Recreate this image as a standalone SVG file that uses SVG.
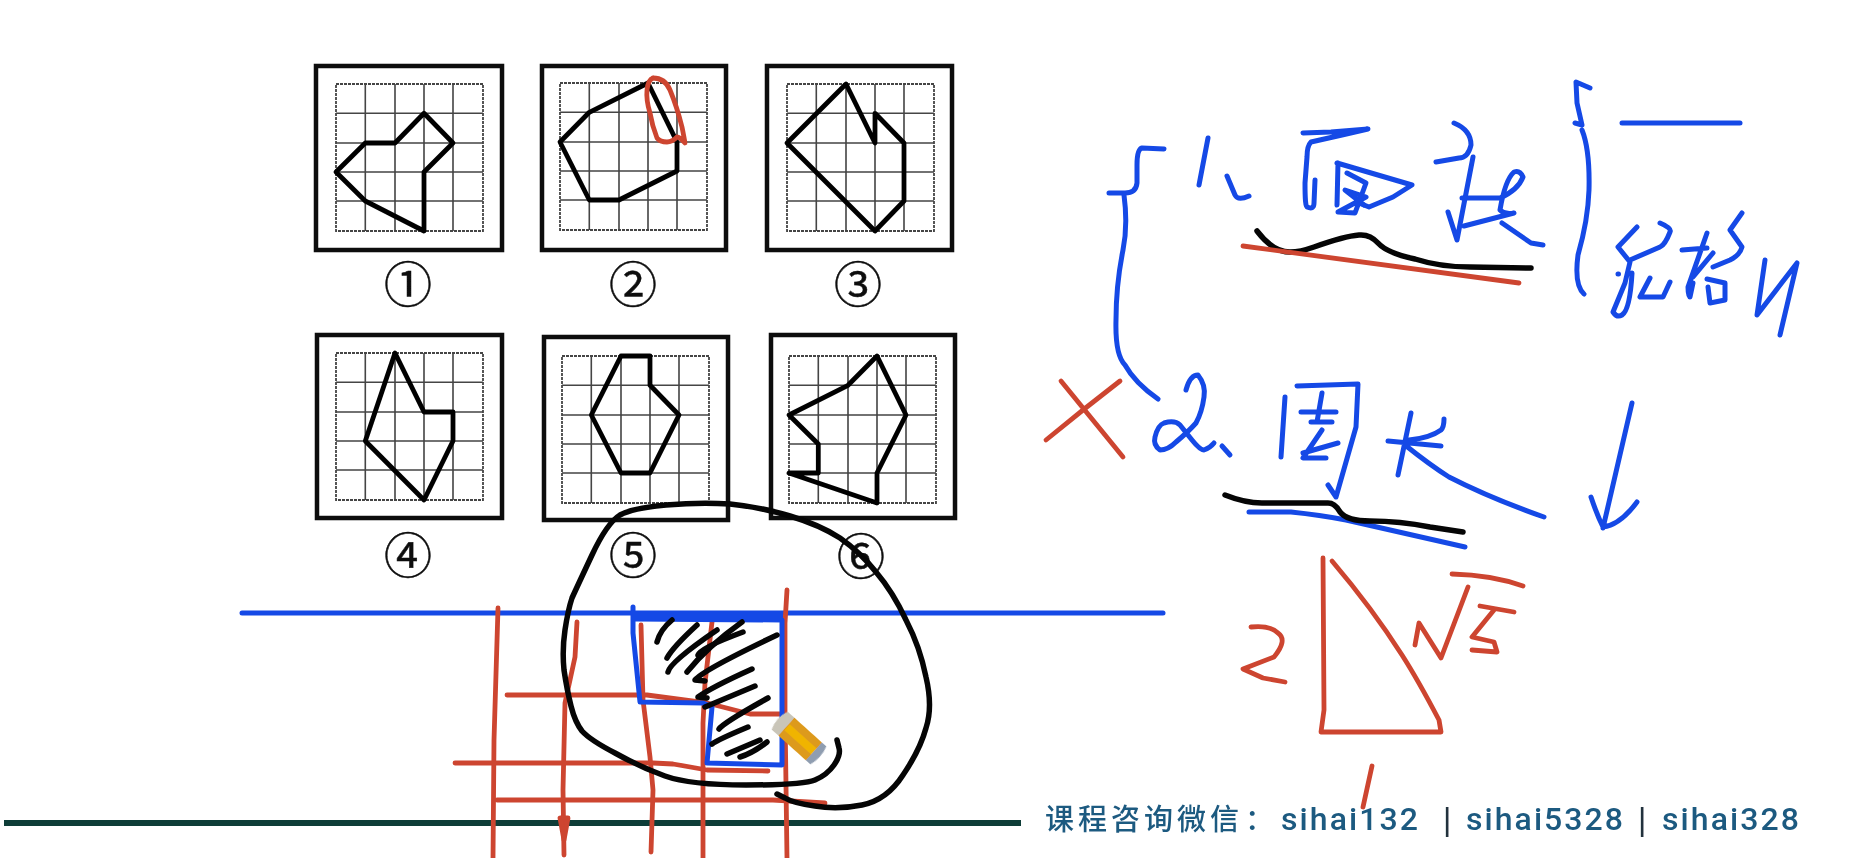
<svg xmlns="http://www.w3.org/2000/svg" xmlns:xlink="http://www.w3.org/1999/xlink" width="1875" height="858" viewBox="0 0 1875 858">
<style>
.box{fill:#fff;stroke:#111;stroke-width:4.5}
.gl{stroke:#444;stroke-width:1.6;fill:none}
.gb{stroke:#444;stroke-width:1.8;fill:none;stroke-dasharray:3 1}
.shape{fill:none;stroke:#050505;stroke-width:4.8;stroke-linejoin:round}
.num{font-family:"Noto Sans CJK SC","DejaVu Sans",sans-serif;font-size:48px;fill:#111;stroke:#111;stroke-width:.5;text-anchor:middle}
.r,.b,.k{fill:none;stroke-linecap:round;stroke-linejoin:round}
.r{stroke:#cd4530;stroke-width:4.8}
.b{stroke:#1549e6;stroke-width:5}
.k{stroke:#050505;stroke-width:5.5}
.wm{font-family:Roboto,"Liberation Sans",sans-serif;font-weight:500;font-size:32px;fill:#1f5a80}
.sep{font-family:"Liberation Sans",sans-serif;font-size:32px;fill:#22303c}
.cjk{font-family:"Noto Sans CJK SC",sans-serif;font-weight:500;font-size:29px;letter-spacing:4px;fill:#1f5a80}
</style>
<defs>
<filter id="soft" x="-2%" y="-2%" width="104%" height="104%"><feGaussianBlur stdDeviation="0.5"/></filter>
<g id="grid">
<rect class="gb" x="0" y="0" width="147" height="147"/>
<path class="gl" d="M29.3 0V147M59 0V147M88 0V147M117 0V147M0 29.3H147M0 59H147M0 88H147M0 117H147"/>
</g>
</defs>
<rect width="1875" height="858" fill="#fff"/>
<g id="panel-1" filter="url(#soft)"><rect class="box" x="316" y="66" width="186" height="184"/><use xlink:href="#grid" href="#grid" x="336" y="84"/><polygon class="shape" transform="translate(336 84)" points="0,88 29.3,59 59,59 88,29.3 117,59 88,88 88,147 29.3,117"/><text class="num" x="408" y="302">①</text></g>
<g id="panel-2" filter="url(#soft)"><rect class="box" x="542" y="66" width="184" height="184"/><use xlink:href="#grid" href="#grid" x="560" y="83"/><polygon class="shape" transform="translate(560 83)" points="88,0 29.3,29.3 0,59 29.3,117 59,117 117,88 117,59"/><text class="num" x="633" y="302">②</text></g>
<g id="panel-3" filter="url(#soft)"><rect class="box" x="767" y="66" width="185" height="184"/><use xlink:href="#grid" href="#grid" x="787" y="84"/><polygon class="shape" transform="translate(787 84)" points="0,59 59,0 88,59 88,29.3 117,59 117,117 88,147"/><text class="num" x="858" y="302">③</text></g>
<g id="panel-4" filter="url(#soft)"><rect class="box" x="317" y="335" width="185" height="183"/><use xlink:href="#grid" href="#grid" x="336" y="353"/><polygon class="shape" transform="translate(336 353)" points="59,0 88,59 117,59 117,88 88,147 29.3,88"/><text class="num" x="408" y="573">④</text></g>
<g id="panel-5" filter="url(#soft)"><rect class="box" x="544" y="337" width="184" height="183"/><use xlink:href="#grid" href="#grid" x="562" y="356"/><polygon class="shape" transform="translate(562 356)" points="59,0 88,0 88,29.3 117,59 88,117 59,117 29.3,59"/><text class="num" x="633" y="573">⑤</text></g>
<g id="panel-6" filter="url(#soft)"><rect class="box" x="771" y="335" width="184" height="183"/><use xlink:href="#grid" href="#grid" x="789" y="356"/><polygon class="shape" transform="translate(789 356)" points="88,0 117,59 88,117 88,147 0,117 29.3,117 29.3,88 0,59 59,29.3"/><text class="num" x="861" y="574">⑥</text></g>

<g id="watermark" filter="url(#soft)">
<text class="cjk" x="1045" y="830">课程咨询微信<tspan x="1245">：</tspan></text>
<text class="wm" x="1281" y="830" textLength="137" lengthAdjust="spacing">sihai132</text>
<text class="sep" x="1443" y="830">|</text>
<text class="wm" x="1466" y="830" textLength="157" lengthAdjust="spacing">sihai5328</text>
<text class="sep" x="1638" y="830">|</text>
<text class="wm" x="1662" y="830" textLength="137" lengthAdjust="spacing">sihai328</text>
</g>

<g id="connectors">
<path id="base-line" d="M4 823H1021" fill="none" stroke="#0e3d38" stroke-width="6"/>
<path id="top-line" d="M242 613H1163" fill="none" stroke="#1549e6" stroke-width="5" stroke-linecap="round"/>
<g id="red-grid" class="r">
<path d="M498 608L494 740L493 858"/>
<path d="M577 622L575 657L565 703L563 790L564 855"/>
<path d="M560 818L568 818L564 840Z" fill="#cd4530"/>
<path d="M641 625L643 700L650 757L653 790L651 852"/>
<path d="M712 622L705 683L703 723L703 858"/>
<path d="M787 590L785 623L785 713L787 858"/>
<path d="M507 695L637 695L647 695L707 703L750 714L780 714"/>
<path d="M455 763L653 763L673 764L707 770L768 771"/>
<path d="M497 800L773 800L825 803"/>
</g>
<path id="blue-shape" class="b" d="M633 607L633 633L640 702L703 703L712 707L707 763L782 765L782 620L636 619"/>
<path id="blue-top" d="M634 615.500H783" fill="none" stroke="#1549e6" stroke-width="9"/>
<path id="big-loop" class="k" d="M837 740L839 748Q841 755 834 765Q827 775 815 780Q803 785 746 785Q690 785 665 776Q640 767 615 753Q590 740 582 731Q575 722 571 706Q567 690 564 670Q562 650 565 630Q568 610 572 598Q577 587 592 555Q607 523 620 515Q633 508 666 505Q700 502 730 504Q760 507 790 516Q820 525 840 538Q860 552 876 572Q893 592 906 620Q920 647 926 677Q933 707 926 728Q920 750 903 775Q887 800 862 805Q837 810 815 806Q793 803 785 798L777 794"/>
<g id="hatching" class="k">
<path d="M657 642Q660 630 672 620"/>
<path d="M667 658Q673 647 697 625"/>
<path d="M668 672Q670 662 717 630"/>
<path d="M687 672Q707 647 742 622"/>
<path d="M698 655Q700 648 743 632"/>
<path d="M705 681L695 680Q703 670 777 635"/>
<path d="M707 698L698 697Q712 687 752 669"/>
<path d="M705 707L755 686"/>
<path d="M719 729Q723 723 768 698"/>
<path d="M712 744Q717 740 748 727"/>
<path d="M727 754L760 740"/>
<path d="M740 757Q753 753 767 742"/>
</g>
<path id="oval" class="r" d="M653 78Q665 78 670 90Q677 107 682 127Q684 137 685 143Q680 137 677 137Q672 142 667 142Q660 142 657 138Q652 125 650 113Q646 100 647 90Q648 80 653 78"/>
</g>

<g id="pencil" transform="translate(799 738) rotate(42)" filter="url(#soft)">
<rect x="-26" y="-12" width="52" height="24" rx="3" fill="#dd9a1e"/>
<rect x="-16" y="-4" width="36" height="8" fill="#f0b400"/>
<path d="M-26 -12H-17V12H-26Q-31 0 -26 -12Z" fill="#c9c5b8"/>
<path d="M20 -12H26Q30 0 26 12H20Z" fill="#8f9db0"/>
</g>

<g id="notes-1">
<path class="b" d="M1164 149L1142 148Q1137 149 1137 165L1137 183Q1136 193 1125 193L1109 193"/>
<path class="b" d="M1124 195Q1128 225 1123 250Q1116 285 1116 320Q1115 355 1125 365Q1135 383 1158 399"/>
<path class="b" d="M1208 138L1199 185M1227 176L1235 195Q1238 201 1249 196"/>
<path class="b" d="M1303 133L1331 132L1368 129L1342 135L1311 142Q1307 146 1307 157L1305 183Q1305 207 1307 207Q1314 210 1314 203L1315 180"/>
<path class="b" d="M1337 163L1412 185L1393 197L1369 207L1359 203M1338 163L1337 205"/>
<path class="b" d="M1347 173L1366 183L1355 213L1338 212L1366 197L1345 190L1364 205"/>
<path class="b" d="M1454 123Q1471 130 1471 145Q1468 158 1459 158L1436 162M1473 157L1457 240L1448 212"/>
<path class="b" d="M1462 198L1500 198Q1518 190 1523 177Q1520 170 1514 172Q1505 180 1500 210Q1505 215 1514 213L1464 226M1502 223L1531 243L1543 245"/>
<path class="k" d="M1257 231Q1273 252 1290 252Q1300 252 1314 247Q1345 236 1359 235Q1370 234 1378 243Q1387 253 1415 259Q1440 267 1470 267L1531 268"/>
<path class="r" d="M1243 246L1519 283"/>
<path class="b" d="M1590 88L1576 82L1577 103L1582 125L1575 123M1582 130Q1590 150 1589 190Q1588 220 1578 255Q1574 285 1584 294"/>
<path class="b" d="M1622 123L1740 123"/>
<path class="b" d="M1637 227L1618 247L1630 262L1625 283L1613 312Q1617 318 1622 315Q1630 310 1632 273M1660 223Q1672 228 1670 232Q1665 245 1660 247L1630 260M1650 278L1640 297L1663 297L1670 282M1618 274L1618.500 274"/>
<path class="b" d="M1682 250L1707 248M1707 233L1688 287Q1688 297 1690 297L1693 283M1713 253L1693 277M1742 213L1730 230L1742 247Q1740 255 1730 260L1713 267M1707 279L1725 283L1725 300L1710 303L1708 287"/>
<path class="b" d="M1765 260L1757 315L1797 263L1780 335"/>
</g>

<g id="notes-2">
<path class="r" d="M1061 381L1123 457M1120 381L1083 410L1046 440"/>
<path class="b" d="M1186 390Q1190 375 1198 375Q1206 385 1204 397Q1202 412 1196 423Q1188 432 1176 442Q1168 450 1160 450Q1153 445 1155 437Q1158 425 1164 423Q1175 420 1180 425L1192 440Q1200 450 1204 450Q1210 448 1214 443M1222 446L1230 455"/>
<path class="b" d="M1285 397L1281 457M1297 386L1358 384L1356 427L1336 497L1328 485M1301 412L1336 412M1322 393L1317 422M1311 422L1332 422M1322 430L1303 458L1326 458M1303 453L1338 443"/>
<path class="b" d="M1411 413L1398 475M1388 441L1441 446M1444 419Q1444 427 1441 430Q1430 438 1409 440M1405 445Q1430 465 1449 477Q1490 498 1544 517"/>
<path class="b" d="M1632 403L1603 528M1591 497Q1597 515 1603 527Q1620 525 1637 502"/>
<path class="b" d="M1249 512L1291 512Q1320 515 1346 520L1465 547"/>
<path class="k" d="M1225 495Q1245 503 1262 503L1328 503Q1335 503 1340 512Q1347 521 1370 521Q1400 521 1430 527L1463 532"/>
</g>

<g id="triangle">
<path class="r" d="M1323 558L1324 710L1321 732L1441 732L1439 720Q1418 680 1402 655Q1372 608 1332 561"/>
<path class="r" d="M1251 627Q1270 625 1278 633Q1288 640 1274 657L1243 669L1263 678L1285 682"/>
<path class="r" d="M1415 645L1419 623L1441 658L1468 587M1452 574Q1492 575 1523 586M1480 606L1514 612M1494 610L1472 637L1494 642L1497 652L1472 650"/>
<path class="r" d="M1372 766L1363 807"/>
</g>
</svg>
